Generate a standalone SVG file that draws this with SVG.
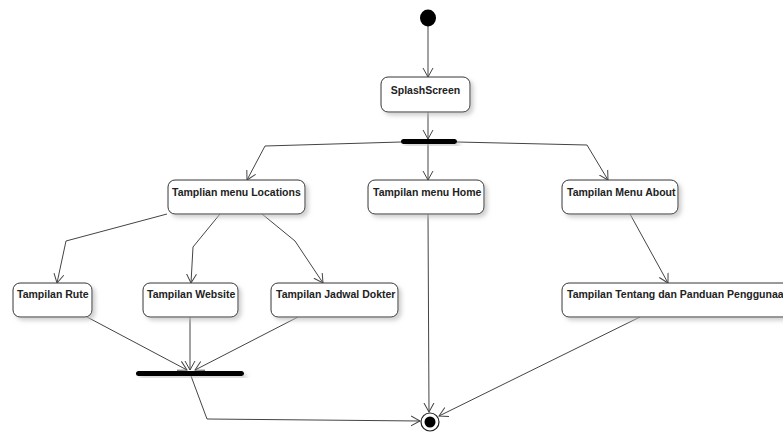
<svg xmlns="http://www.w3.org/2000/svg" width="783" height="432" viewBox="0 0 783 432">
<style>
.box{fill:#fff;stroke:#333;stroke-width:1;filter:url(#sh)}
.lbl{font-family:"Liberation Sans",Arial,sans-serif;font-weight:bold;font-size:10.5px;fill:#222}
.bar{fill:#000;filter:url(#sh)}
.edge{fill:none;stroke:#444;stroke-width:1;marker-end:url(#arr)}
</style>
<defs>
<filter id="sh" x="-20%" y="-20%" width="140%" height="160%">
<feDropShadow dx="3" dy="3" stdDeviation="2" flood-color="#bbb" flood-opacity="0.7"/>
</filter>
<marker id="arr" markerUnits="userSpaceOnUse" markerWidth="12" markerHeight="12" refX="9" refY="5" orient="auto" viewBox="0 0 12 10">
<path d="M0,0 L9,5 L0,10" fill="none" stroke="#444" stroke-width="1"/>
</marker>
</defs>
<rect width="783" height="432" fill="#fff"/>
<g id="connectors">
<path class="edge" d="M428,26 L428,77"/>
<path class="edge" d="M428,112 L428,139"/>
<path class="edge" d="M401,142 L265,146 L247,180"/>
<path class="edge" d="M428,144 L428,180"/>
<path class="edge" d="M457,142 L587,145 L608,180"/>
<path class="edge" d="M167,214 L66,241 L57,283"/>
<path class="edge" d="M220,214 L193,247 L191,283"/>
<path class="edge" d="M262,214 L295,241 L323,283"/>
<path class="edge" d="M630,214 L668,283"/>
<path class="edge" d="M87,317 L187,370"/>
<path class="edge" d="M190,317 L190,370"/>
<path class="edge" d="M298,317 L195,370"/>
<path class="edge" d="M191,376 L207,419 L420,421"/>
<path class="edge" d="M428,214 L429,412"/>
<path class="edge" d="M640,317 L439,416"/>
</g>
<g id="initial"><ellipse cx="428" cy="18" rx="8" ry="8.5" fill="#000"/></g>
<g id="splash"><rect class="box" x="381" y="77" width="89" height="35" rx="7"/><text class="lbl" x="425.5" y="94" text-anchor="middle">SplashScreen</text></g>
<g id="fork"><rect class="bar" x="401" y="139" width="56" height="5" rx="2.5"/></g>
<g id="locations"><rect class="box" x="168" y="180" width="137" height="34" rx="7"/><text class="lbl" x="172" y="196">Tamplian menu Locations</text></g>
<g id="home"><rect class="box" x="368" y="180" width="116" height="34" rx="7"/><text class="lbl" x="373" y="196">Tampilan menu Home</text></g>
<g id="about"><rect class="box" x="562" y="180" width="116" height="34" rx="7"/><text class="lbl" x="567" y="196">Tampilan Menu About</text></g>
<g id="rute"><rect class="box" x="13" y="283" width="79" height="34" rx="7"/><text class="lbl" x="17" y="298">Tampilan Rute</text></g>
<g id="website"><rect class="box" x="143" y="283" width="95" height="34" rx="7"/><text class="lbl" x="147" y="298">Tampilan Website</text></g>
<g id="jadwal"><rect class="box" x="271" y="283" width="127" height="34" rx="7"/><text class="lbl" x="276" y="298">Tampilan Jadwal Dokter</text></g>
<g id="tentang"><rect class="box" x="562" y="283" width="240" height="34" rx="7"/><text class="lbl" x="567" y="298">Tampilan Tentang dan Panduan Penggunaa</text></g>
<g id="join"><rect class="bar" x="136" y="371" width="108" height="5" rx="2.5"/></g>
<g id="final"><circle cx="430" cy="422" r="9" fill="#fff" stroke="#222" stroke-width="1.2"/><circle cx="430" cy="422" r="5.5" fill="#000"/></g>
</svg>
